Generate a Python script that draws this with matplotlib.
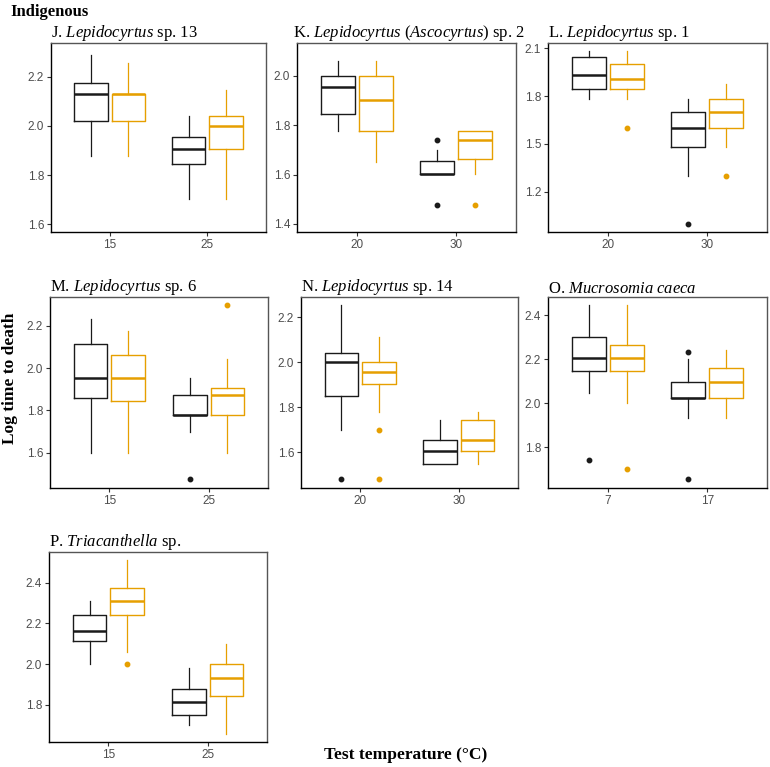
import matplotlib
matplotlib.use("Agg")
import matplotlib.pyplot as plt

# ---- data (low whisker, q1, median, q3, high whisker) ----
titles = ["J. $\\mathit{Lepidocyrtus}$ sp. 13",
          "K. $\\mathit{Lepidocyrtus}$ ($\\mathit{Ascocyrtus}$) sp. 2",
          "L. $\\mathit{Lepidocyrtus}$ sp. 1",
          "M. $\\mathit{Lepidocyrtus}$ sp. 6",
          "N. $\\mathit{Lepidocyrtus}$ sp. 14",
          "O. $\\mathit{Mucrosomia\\ caeca}$",
          "P. $\\mathit{Triacanthella}$ sp."]

temps_J = ["15", "25"]
J_black = [(1.878, 2.022, 2.130, 2.176, 2.289), (1.702, 1.845, 1.905, 1.954, 2.041)]
J_orange = [(1.878, 2.022, 2.130, 2.130, 2.255), (1.702, 1.905, 2.000, 2.041, 2.146)]
J_black_out = [[], []]
J_orange_out = [[], []]

temps_K = ["20", "30"]
K_black = [(1.777, 1.844, 1.954, 2.000, 2.062), (1.602, 1.602, 1.602, 1.653, 1.698)]
K_orange = [(1.652, 1.777, 1.903, 2.000, 2.062), (1.602, 1.664, 1.741, 1.777, 1.777)]
K_black_out = [[], [1.741, 1.477]]
K_orange_out = [[], [1.477]]

temps_L = ["20", "30"]
L_black = [(1.779, 1.846, 1.929, 2.044, 2.085), (1.300, 1.477, 1.602, 1.700, 1.779)]
L_orange = [(1.779, 1.846, 1.904, 2.002, 2.085), (1.477, 1.602, 1.700, 1.779, 1.875)]
L_black_out = [[], [0.998]]
L_orange_out = [[1.602], [1.300]]

temps_M = ["15", "25"]
M_black = [(1.600, 1.861, 1.954, 2.112, 2.232), (1.698, 1.777, 1.777, 1.875, 1.954)]
M_orange = [(1.600, 1.845, 1.954, 2.060, 2.177), (1.600, 1.777, 1.875, 1.905, 2.041)]
M_black_out = [[], [1.476]]
M_orange_out = [[], [2.300]]

temps_N = ["20", "30"]
N_black = [(1.700, 1.848, 2.000, 2.042, 2.256), (1.549, 1.549, 1.604, 1.654, 1.741)]
N_orange = [(1.780, 1.905, 1.955, 2.000, 2.113), (1.549, 1.604, 1.654, 1.741, 1.780)]
N_black_out = [[1.479], []]
N_orange_out = [[1.700, 1.479], []]

temps_O = ["7", "17"]
O_black = [(2.046, 2.147, 2.205, 2.302, 2.446), (1.932, 2.024, 2.024, 2.099, 2.200)]
O_orange = [(2.000, 2.147, 2.205, 2.267, 2.446), (1.932, 2.024, 2.099, 2.162, 2.243)]
O_black_out = [[1.743], [2.232, 1.655]]
O_orange_out = [[1.702], []]

temps_P = ["15", "25"]
P_black = [(2.000, 2.115, 2.163, 2.242, 2.312), (1.700, 1.751, 1.814, 1.875, 1.979)]
P_orange = [(2.061, 2.242, 2.312, 2.377, 2.513), (1.656, 1.845, 1.931, 2.000, 2.097)]
P_black_out = [[], []]
P_orange_out = [[2.000], []]

ylims = [(1.569, 2.337), (1.367, 2.133), (0.946, 2.133), (1.434, 2.336),
         (1.440, 2.290), (1.616, 2.483), (1.616, 2.552)]
yticks = [[1.6, 1.8, 2.0, 2.2], [1.4, 1.6, 1.8, 2.0], [1.2, 1.5, 1.8, 2.1],
          [1.6, 1.8, 2.0, 2.2], [1.6, 1.8, 2.0, 2.2], [1.8, 2.0, 2.2, 2.4],
          [1.8, 2.0, 2.2, 2.4]]

panels = [
    (temps_J, J_black, J_orange, J_black_out, J_orange_out),
    (temps_K, K_black, K_orange, K_black_out, K_orange_out),
    (temps_L, L_black, L_orange, L_black_out, L_orange_out),
    (temps_M, M_black, M_orange, M_black_out, M_orange_out),
    (temps_N, N_black, N_orange, N_black_out, N_orange_out),
    (temps_O, O_black, O_orange, O_black_out, O_orange_out),
    (temps_P, P_black, P_orange, P_black_out, P_orange_out),
]

# panel boxes in pixels (left, top, right, bottom)
boxes_px = [(51, 43, 266, 232), (297, 43, 516, 232), (548, 43, 767, 232),
            (50, 297, 268, 488), (301, 297, 518, 488), (548, 297, 767, 488),
            (49, 552, 267, 742)]

W, H = 770, 767
BLACK = "#1a1a1a"
ORANGE = "#E69F00"

plt.rcParams["mathtext.fontset"] = "custom"
plt.rcParams["mathtext.rm"] = "Liberation Serif"
plt.rcParams["mathtext.it"] = "Liberation Serif:italic"

fig = plt.figure(figsize=(W / 100, H / 100), dpi=100)


def to_stats(rows, outs):
    res = []
    for (lo, q1, med, q3, hi), fl in zip(rows, outs):
        res.append({"whislo": lo, "q1": q1, "med": med, "q3": q3, "whishi": hi, "fliers": fl})
    return res


for i, (temps, blk, org, blk_out, org_out) in enumerate(panels):
    l, t, r, b = boxes_px[i]
    ax = fig.add_axes([l / W, 1 - b / H, (r - l) / W, (b - t) / H])
    xs = list(range(1, len(temps) + 1))
    for stats, col, off in [(to_stats(blk, blk_out), BLACK, -0.19),
                            (to_stats(org, org_out), ORANGE, 0.19)]:
        ax.bxp(stats, positions=[x + off for x in xs], widths=0.34,
               showcaps=False, patch_artist=False,
               boxprops=dict(color=col, linewidth=1.0),
               whiskerprops=dict(color=col, linewidth=0.9),
               medianprops=dict(color=col, linewidth=1.8),
               flierprops=dict(marker="o", markersize=3.2, markerfacecolor=col,
                               markeredgecolor=col, linestyle="none"))
    ax.set_xlim(0.4, 2.6)
    ax.set_ylim(*ylims[i])
    ax.set_xticks(xs)
    ax.set_xticklabels(temps)
    ax.set_yticks(yticks[i])
    ax.set_yticklabels(["%.1f" % v for v in yticks[i]])
    ax.tick_params(length=3, width=0.8, color="#333333", labelcolor="#4D4D4D",
                   labelsize=8.5, pad=2)
    for lab in ax.get_xticklabels() + ax.get_yticklabels():
        lab.set_family("Liberation Sans")
    for side in ["top", "right"]:
        ax.spines[side].set_color("#555555")
        ax.spines[side].set_linewidth(1.0)
    for side in ["left", "bottom"]:
        ax.spines[side].set_color("black")
        ax.spines[side].set_linewidth(1.0)
    tx = -0.02 if i == 1 else 0.0
    ax.set_title(titles[i], loc="left", x=tx, pad=3, fontsize=12,
                 family="Liberation Serif")

fig.text(10 / W, 1 - 4 / H, "Indigenous", ha="left", va="top", fontsize=12,
         fontweight="bold", family="Liberation Serif")
fig.text(10 / W, 1 - 378 / H, "Log time to death", rotation=90, ha="center",
         va="center", fontsize=12.5, fontweight="bold", family="Liberation Serif")
fig.text(406 / W, 1 - 755 / H, "Test temperature (\u00b0C)", ha="center",
         va="center", fontsize=12.5, fontweight="bold", family="Liberation Serif")

fig.savefig("out.png", dpi=100)
